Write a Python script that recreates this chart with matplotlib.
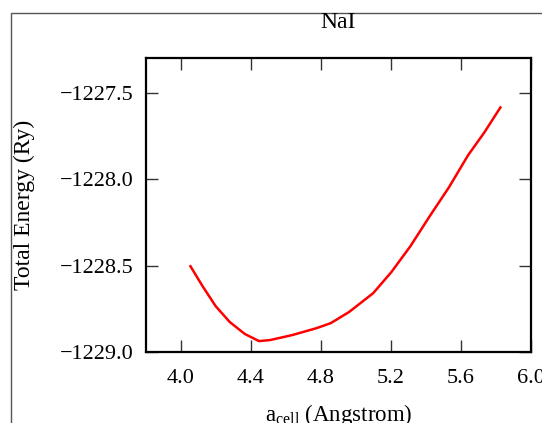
import matplotlib
matplotlib.use("Agg")
import matplotlib.pyplot as plt
from matplotlib.patches import Rectangle

# lattice constant (Angstrom) and total energy (Ry)
a_cell = [4.054, 4.123, 4.198, 4.279, 4.365, 4.446, 4.509, 4.636, 4.775,
          4.856, 4.960, 5.098, 5.202, 5.311, 5.421, 5.531, 5.640, 5.733, 5.825]
energy = [-1228.504, -1228.619, -1228.735, -1228.827, -1228.896, -1228.937,
          -1228.931, -1228.902, -1228.862, -1228.833, -1228.769, -1228.660,
          -1228.538, -1228.388, -1228.215, -1228.048, -1227.863, -1227.731,
          -1227.586]

x_ticks = [4.0, 4.4, 4.8, 5.2, 5.6, 6.0]
y_ticks = [-1229.0, -1228.5, -1228.0, -1227.5]

plt.rcParams['font.family'] = ['Liberation Serif', 'DejaVu Serif']
plt.rcParams['mathtext.fontset'] = 'custom'
plt.rcParams['mathtext.rm'] = 'Liberation Serif'

fig = plt.figure(figsize=(5.42, 4.23), dpi=100)

# outer frame of the original page (cut off on the right and bottom)
fig.patches.append(Rectangle((11 / 542, -0.1), 1.2, 1.1 - 13 / 423,
                             transform=fig.transFigure, fill=False,
                             edgecolor='#555555', linewidth=1.0))

ax = fig.add_axes([146 / 542, 1 - 352 / 423, 385 / 542, 294 / 423])
ax.plot(a_cell, energy, color='red', linewidth=1.8)

ax.set_xlim(3.8, 6.0)
ax.set_ylim(-1229.0, -1227.3)
ax.set_xticks(x_ticks)
ax.set_yticks(y_ticks)
ax.set_xticklabels([f'{v:.1f}' for v in x_ticks])
ax.set_yticklabels([f'{v:.1f}'.replace('-', '\u2212') for v in y_ticks])

for s in ax.spines.values():
    s.set_linewidth(1.6)
ax.tick_params(direction='in', top=True, right=True, length=8.5, width=1.0,
               labelsize=16, color='#333333')
ax.tick_params(axis='x', pad=12)
ax.tick_params(axis='y', pad=9)

ax.set_xlabel(r'a$_{\rm cell}$ (Angstrom)', fontsize=16.5, labelpad=10)
ax.set_ylabel('Total Energy (Ry)', fontsize=17, labelpad=18)

fig.text(338 / 542, 1 - 23 / 423, 'NaI', ha='center', va='center', fontsize=17)

fig.savefig('out.png', dpi=100)
